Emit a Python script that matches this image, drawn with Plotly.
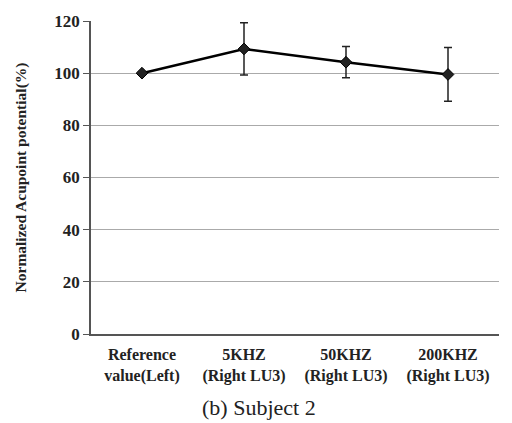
import plotly.graph_objects as go

categories = ["Reference<br>value(Left)", "5KHZ<br>(Right LU3)", "50KHZ<br>(Right LU3)", "200KHZ<br>(Right LU3)"]
values = [100, 109.3, 104.2, 99.5]
errors = [0, 10.0, 6.0, 10.3]
y_ticks = [0, 20, 40, 60, 80, 100, 120]

fig = go.Figure()
fig.add_trace(go.Scatter(
    x=categories, y=values, mode="lines+markers",
    line=dict(color="black", width=2.5),
    marker=dict(symbol="diamond", size=9, color="#222", line=dict(color="black", width=1)),
    error_y=dict(type="data", array=errors, visible=True, color="#222", thickness=1.5, width=4),
    showlegend=False,
))

serif = "Liberation Serif, Times New Roman, serif"
fig.update_layout(
    width=512, height=423,
    margin=dict(l=91, r=13, t=15, b=89),
    paper_bgcolor="white", plot_bgcolor="white",
    font=dict(family=serif, color="black"),
    xaxis=dict(
        range=[-0.5, 3.5],
        showline=True, linecolor="#555", linewidth=1.5,
        tickfont=dict(family=serif, size=16, color="#222", weight="bold"),
        ticks="", showgrid=False, ticklabelstandoff=5,
    ),
    yaxis=dict(
        range=[0, 120], tickvals=y_ticks,
        showline=True, linecolor="#555", linewidth=1.5,
        ticks="outside", ticklen=6, tickcolor="#555",
        gridcolor="#aaa", gridwidth=1,
        tickfont=dict(family=serif, size=17, color="#222", weight="bold"),
        title=dict(text="Normalized Acupoint potential(%)", standoff=24,
                   font=dict(family=serif, size=15.5, color="#222", weight="bold")),
        zeroline=False,
    ),
    annotations=[dict(
        text="(b) Subject 2", xref="paper", yref="paper",
        x=(259 - 91) / 408, y=-0.235, xanchor="center", yanchor="middle",
        showarrow=False, font=dict(family=serif, size=22, color="#222"),
    )],
)

fig.write_html("out.html")
